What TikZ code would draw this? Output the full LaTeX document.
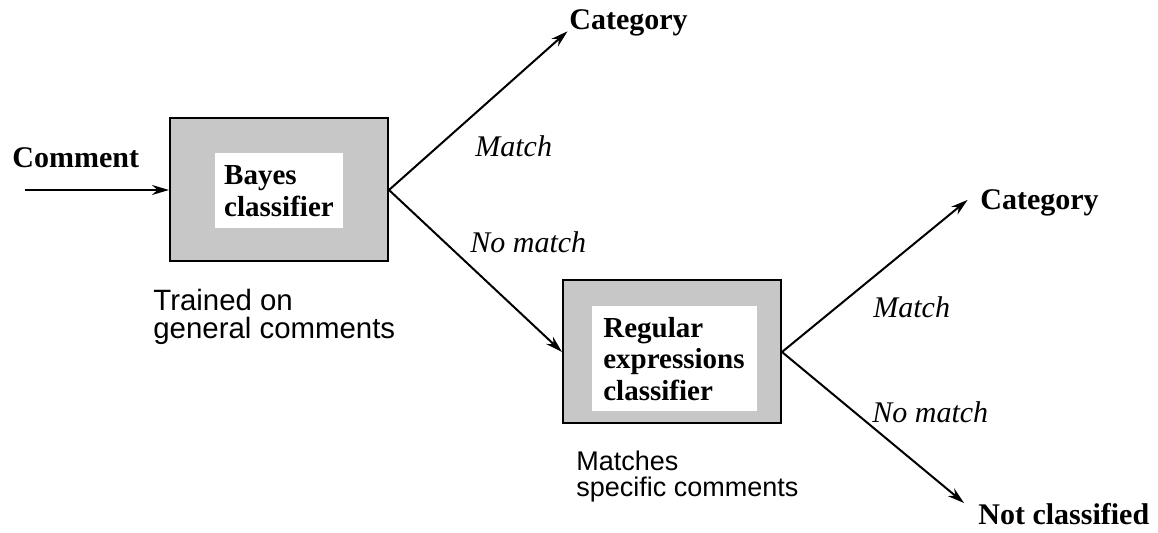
\documentclass[tikz,border=0pt]{standalone}
\usepackage{fontspec}
\setmainfont{Liberation Serif}
\setsansfont{Liberation Sans}
\usetikzlibrary{arrows.meta}
\definecolor{kasten}{rgb}{0.78,0.78,0.78}

\begin{document}
\begin{tikzpicture}[x=0.5pt, y=-0.5pt,
  box/.style={draw=black, line width=1pt, fill=kasten, minimum width=109pt, minimum height=71.5pt},
  inbox/.style={fill=white, align=left, inner sep=0pt, font=\fontsize{14.5}{15.8}\selectfont\bfseries},
  lab/.style={inner sep=0pt, font=\fontsize{15}{18}\selectfont\bfseries},
  cond/.style={inner sep=0pt, font=\fontsize{15}{18}\selectfont\itshape},
  note/.style={inner sep=0pt, align=left, font=\fontsize{14.7}{13.8}\selectfont\sffamily},
  flow/.style={-{Stealth[length=8.5pt, width=5pt]}, line width=1pt}]
\useasboundingbox (0,0) rectangle (1158,533);

% classifier boxes
\node[box] (bayes) at (279,190) {};
\node[inbox, minimum width=64pt, minimum height=37.5pt] (bayest) at (279,191) {Bayes\\classifier};
\node[box] (regex) at (672,352) {};
\node[inbox, minimum width=82.5pt, minimum height=52.5pt] (regext) at (674,359) {Regular\\expressions\\classifier};

% labels
\node[lab, anchor=base west] (cmt) at (12,168) {Comment};
\node[lab, anchor=base west] (cattop) at (569,30) {Category};
\node[lab, anchor=base west] (catright) at (980,210) {Category};
\node[lab, anchor=base west] (notcl) at (978,525) {Not classified};
\node[cond, anchor=base west] (mtop) at (475,157) {Match};
\node[cond, anchor=base west] (nmtop) at (470,253) {No match};
\node[cond, anchor=base west] (mright) at (873,318) {Match};
\node[cond, anchor=base west] (nmright) at (872,423) {No match};
\node[note, anchor=north west] (trained) at (153,289) {Trained on\\general comments};
\node[note, anchor=north west, font=\fontsize{13.5}{12.8}\selectfont\sffamily] (matches) at (576,451) {Matches\\specific comments};

% arrows
\coordinate (in) at (25,190);
\draw[flow] (in) -- (bayes.west);
\draw[flow, shorten >=1pt] (bayes.east) -- (cattop.base west);
\draw[flow] (bayes.east) -- (regex.west);
\draw[flow, shorten >=8pt] (regex.east) -- (catright.north west);
\draw[flow, shorten >=9pt] (regex.east) -- (notcl.west);
\end{tikzpicture}
\end{document}
